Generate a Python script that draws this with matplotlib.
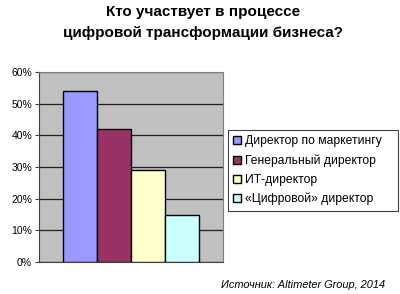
import matplotlib
matplotlib.use("Agg")
import matplotlib.pyplot as plt
from matplotlib.ticker import PercentFormatter

plt.rcParams['font.family'] = ['Liberation Sans', 'DejaVu Sans']

categories = ["Директор по маркетингу", "Генеральный директор", "ИТ-директор", "«Цифровой» директор"]
values = [54, 42, 29, 15]
colors = ["#9999FF", "#993366", "#FFFFCC", "#CCFFFF"]
yticks = [0, 10, 20, 30, 40, 50, 60]
title = "Кто участвует в процессе\nцифровой трансформации бизнеса?"
source = "Источник: Altimeter Group, 2014"

W, H = 400, 294
fig = plt.figure(figsize=(W/100, H/100), dpi=100)
ax = fig.add_axes([39/W, 1-262/H, 184/W, 190/H])
ax.set_facecolor("#C0C0C0")

bw = 34/184
start = 24/184
handles = []
for i, (c, v, col) in enumerate(zip(categories, values, colors)):
    b = ax.bar(start + i*bw, v, width=bw, align='edge', color=col, edgecolor='black', linewidth=1.0, label=c, zorder=3)
    handles.append(b)

ax.set_xlim(0, 1)
ax.set_ylim(0, 60)
ax.set_yticks(yticks)
ax.yaxis.set_major_formatter(PercentFormatter(decimals=0))
ax.set_xticks([])
ax.grid(axis='y', color='#202020', linewidth=0.9, zorder=1)
for s in ['top', 'right']:
    ax.spines[s].set_color('#808080')
ax.spines['left'].set_color('#404040')
ax.spines['bottom'].set_color('#404040')
ax.tick_params(axis='y', labelsize=7.5, length=3, color='#404040', pad=2)

fig.text(203/W, 1-22.5/H, title, ha='center', va='center', fontsize=11, fontweight='bold', linespacing=1.6)

leg = fig.legend(handles=handles, labels=categories, loc='upper left',
                 bbox_to_anchor=(228/W, 1-130/H, 170/W, 0), mode='expand',
                 fontsize=8.7, frameon=True,
                 fancybox=False, edgecolor='#404040', framealpha=1,
                 handlelength=0.6, handleheight=0.6, handletextpad=0.35,
                 labelspacing=0.58, borderpad=0.45, borderaxespad=0)
leg.get_frame().set_linewidth(0.8)

fig.text(385/W, 1-285/H, source, ha='right', va='center', fontsize=7.9, style='italic')

fig.savefig("out.png", dpi=100)
